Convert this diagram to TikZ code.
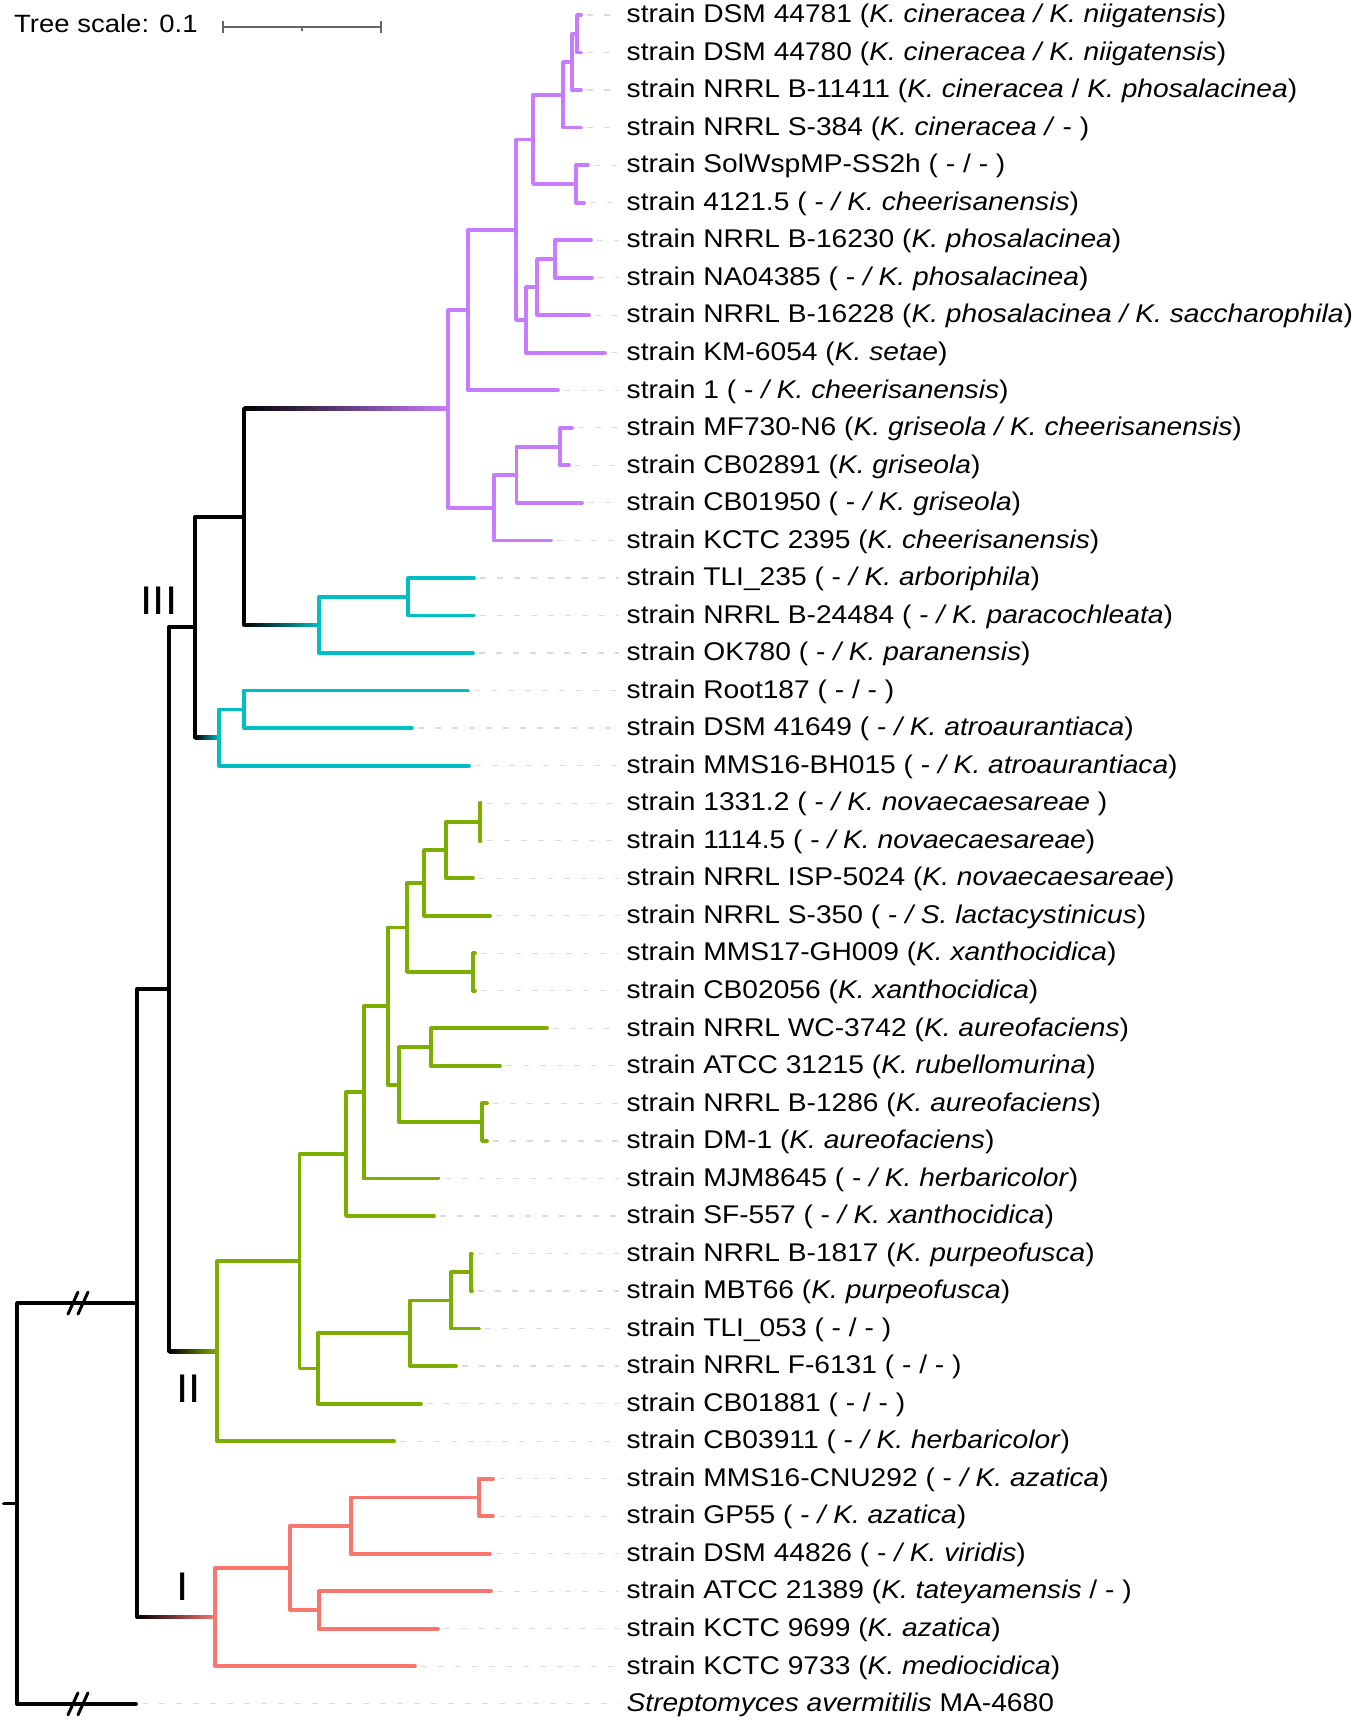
\documentclass[tikz,border=0pt]{standalone}
\usepackage{fontspec}
\setmainfont{Liberation Sans}[FakeStretch=1.1]
\usetikzlibrary{calc}

\definecolor{kpurple}{HTML}{C77CFF}
\definecolor{kcyan}{HTML}{00BFC4}
\definecolor{kgreen}{HTML}{7CAE00}
\definecolor{kred}{HTML}{F8766D}

% black-to-colour stem of a clade
\newcommand{\gradbranch}[3]{%
  \shade[left color=black, right color=#3] ($(#1 |- #2)+(0,-1.9)$) rectangle ($(#2)+(0,1.9)$);}

\begin{document}
\begin{tikzpicture}[x=1pt, y=-1pt,
	branch/.style={line width=3.8pt, line cap=round, line join=round},
	leader/.style={draw=black!14, line width=1.2pt, dash pattern=on 6pt off 11pt},
	leaf/.style={anchor=base west, inner sep=0pt, font=\fontsize{25.6}{28}\selectfont},
	clade/.style={inner sep=0pt, font=\fontsize{40}{44}\selectfont},
	brk/.style={line width=3pt, line cap=round}]
	
	\useasboundingbox (0,0) rectangle (1355,1722);
	
	% ----- scale bar
	\node[leaf, font=\fontsize{25}{28}\selectfont] (scale) at (14,32.3) {Tree scale: 0.1};
	\coordinate (sb0) at (223,26.5);
	\coordinate (sb1) at (381,26.5);
	\draw[black!60, line width=2pt] (sb0) -- (sb1)
		(sb0) ++(0,-6) -- ++(0,12)
		(sb1) ++(0,-6) -- ++(0,12)
		($(sb0)!0.5!(sb1)$) -- ++(0,4);
	
	% ----- leaves: tip, label and dashed leader
	\foreach \i/\tx/\lab in {
		1/581/{strain DSM 44781 (\textit{K. cineracea / K. niigatensis})},
		2/581/{strain DSM 44780 (\textit{K. cineracea / K. niigatensis})},
		3/581/{strain NRRL B-11411 (\textit{K. cineracea} / \textit{K. phosalacinea})},
		4/581/{strain NRRL S-384 (\textit{K. cineracea /} - )},
		5/588/{strain SolWspMP-SS2h ( - / - )},
		6/584/{strain 4121.5 ( - \textit{/ K. cheerisanensis})},
		7/591/{strain NRRL B-16230 (\textit{K. phosalacinea})},
		8/592/{strain NA04385 ( - \textit{/ K. phosalacinea})},
		9/589/{strain NRRL B-16228 (\textit{K. phosalacinea / K. saccharophila})},
		10/605/{strain KM-6054 (\textit{K. setae})},
		11/558/{strain 1 ( - \textit{/ K. cheerisanensis})},
		12/572/{strain MF730-N6 (\textit{K. griseola / K. cheerisanensis})},
		13/569/{strain CB02891 (\textit{K. griseola})},
		14/582/{strain CB01950 ( - \textit{/ K. griseola})},
		15/551/{strain KCTC 2395 (\textit{K. cheerisanensis})},
		16/474/{strain TLI\_235 ( - \textit{/ K. arboriphila})},
		17/474/{strain NRRL B-24484 ( - \textit{/ K. paracochleata})},
		18/473/{strain OK780 ( - \textit{/ K. paranensis})},
		19/468/{strain Root187 ( - / - )},
		20/412/{strain DSM 41649 ( - \textit{/ K. atroaurantiaca})},
		21/469/{strain MMS16-BH015 ( - \textit{/ K. atroaurantiaca})},
		22/480.5/{strain 1331.2 ( - \textit{/ K. novaecaesareae} )},
		23/480.5/{strain 1114.5 ( - \textit{/ K. novaecaesareae})},
		24/473/{strain NRRL ISP-5024 (\textit{K. novaecaesareae})},
		25/490/{strain NRRL S-350 ( - \textit{/ S. lactacystinicus})},
		26/475/{strain MMS17-GH009 (\textit{K. xanthocidica})},
		27/475/{strain CB02056 (\textit{K. xanthocidica})},
		28/547/{strain NRRL WC-3742 (\textit{K. aureofaciens})},
		29/500/{strain ATCC 31215 (\textit{K. rubellomurina})},
		30/487/{strain NRRL B-1286 (\textit{K. aureofaciens})},
		31/487/{strain DM-1 (\textit{K. aureofaciens})},
		32/438.5/{strain MJM8645 ( - \textit{/ K. herbaricolor})},
		33/434/{strain SF-557 ( - \textit{/ K. xanthocidica})},
		34/472/{strain NRRL B-1817 (\textit{K. purpeofusca})},
		35/472/{strain MBT66 (\textit{K. purpeofusca})},
		36/479/{strain TLI\_053 ( - / - )},
		37/456/{strain NRRL F-6131 ( - / - )},
		38/421/{strain CB01881 ( - / - )},
		39/394/{strain CB03911 ( - \textit{/ K. herbaricolor})},
		40/493/{strain MMS16-CNU292 ( - \textit{/ K. azatica})},
		41/493/{strain GP55 ( - \textit{/ K. azatica})},
		42/490/{strain DSM 44826 ( - \textit{/ K. viridis})},
		43/491/{strain ATCC 21389 (\textit{K. tateyamensis} / - )},
		44/438/{strain KCTC 9699 (\textit{K. azatica})},
		45/415/{strain KCTC 9733 (\textit{K. mediocidica})},
		46/136/{\textit{Streptomyces avermitilis} MA-4680}}{
		\coordinate (t\i) at (\tx, {15+(\i-1)*37.53});
		\node[leaf] (n\i) at (626.5, {22.7+(\i-1)*37.53}) {\lab};
		\draw[leader] ($(t\i)+(6,0)$) -- ($(n\i.base west |- t\i)+(-8,0)$);
	}
	
	% ----- clade III, purple part
	\coordinate (p1) at (577,33.8);
	\coordinate (p2) at (572,62.0);
	\coordinate (p3) at (563,94.8);
	\coordinate (p4) at (576,183.9);
	\coordinate (p5) at (533,139.4);
	\coordinate (p6) at (555,259.0);
	\coordinate (p7) at (537,287.1);
	\coordinate (p8) at (526,320.0);
	\coordinate (p9) at (516,229.7);
	\coordinate (p10) at (468,310.0);
	\coordinate (p11) at (560,446.6);
	\coordinate (p12) at (516.5,474.7);
	\coordinate (p13) at (494,507.6);
	\coordinate (p14) at (448,408.8);
	
	% ----- clade III, cyan part
	\coordinate (c1) at (408,596.7);
	\coordinate (c2) at (319,624.9);
	\coordinate (c3) at (244,709.4);
	\coordinate (c4) at (219,737.5);
	
	% ----- clade II, green
	\coordinate (g1) at (479.6,821.9);
	\coordinate (g2) at (446,850.0);
	\coordinate (g3) at (424,882.9);
	\coordinate (g4) at (473,972.0);
	\coordinate (g5) at (407,927.4);
	\coordinate (g6) at (431,1047.0);
	\coordinate (g7) at (482,1122.1);
	\coordinate (g8) at (399,1084.6);
	\coordinate (g9) at (387.6,1006.0);
	\coordinate (g10) at (363.7,1092.2);
	\coordinate (g11) at (346,1154.1);
	\coordinate (g12) at (471,1272.3);
	\coordinate (g13) at (451,1300.4);
	\coordinate (g14) at (410,1333.3);
	\coordinate (g15) at (318,1368.5);
	\coordinate (g16) at (299.5,1261.3);
	\coordinate (g17) at (217,1351.2);
	
	% ----- clade I, red
	\coordinate (r1) at (478.7,1497.4);
	\coordinate (r2) at (350.7,1525.6);
	\coordinate (r3) at (319,1610.0);
	\coordinate (r4) at (290,1567.8);
	\coordinate (r5) at (215,1617.0);
	
	% ----- backbone
	\coordinate (k1) at (244,516.9);
	\coordinate (k2) at (195,627.2);
	\coordinate (k3) at (169,989.2);
	\coordinate (k4) at (137,1303.1);
	\coordinate (root) at (17,1503.5);
	\coordinate (base) at (4,1503.5);
	
	% stems fading from black into the clade colour
	\gradbranch{k1}{p14}{kpurple}
	\gradbranch{k1}{c2}{kcyan}
	\gradbranch{k2}{c4}{kcyan}
	\gradbranch{k3}{g17}{kgreen}
	\gradbranch{k4}{r5}{kred}
	
	\begin{scope}[branch, kpurple]
		\draw (t1) -| (p1) |- (t2);
		\draw (p1) -| (p2) |- (t3);
		\draw (p2) -| (p3) |- (t4);
		\draw (t5) -| (p4) |- (t6);
		\draw (p3) -| (p5) |- (p4);
		\draw (t7) -| (p6) |- (t8);
		\draw (p6) -| (p7) |- (t9);
		\draw (p7) -| (p8) |- (t10);
		\draw (p5) -| (p9) |- (p8);
		\draw (p9) -| (p10) |- (t11);
		\draw (t12) -| (p11) |- (t13);
		\draw (p11) -| (p12) |- (t14);
		\draw (p12) -| (p13) |- (t15);
		\draw (p10) -| (p14) |- (p13);
	\end{scope}
	
	\begin{scope}[branch, kcyan]
		\draw (t16) -| (c1) |- (t17);
		\draw (c1) -| (c2) |- (t18);
		\draw (t19) -| (c3) |- (t20);
		\draw (c3) -| (c4) |- (t21);
	\end{scope}
	
	\begin{scope}[branch, kgreen]
		\draw (t22) -| (g1) |- (t23);
		\draw (g1) -| (g2) |- (t24);
		\draw (g2) -| (g3) |- (t25);
		\draw (t26) -| (g4) |- (t27);
		\draw (g3) -| (g5) |- (g4);
		\draw (t28) -| (g6) |- (t29);
		\draw (t30) -| (g7) |- (t31);
		\draw (g6) -| (g8) |- (g7);
		\draw (g5) -| (g9) |- (g8);
		\draw (g9) -| (g10) |- (t32);
		\draw (g10) -| (g11) |- (t33);
		\draw (t34) -| (g12) |- (t35);
		\draw (g12) -| (g13) |- (t36);
		\draw (g13) -| (g14) |- (t37);
		\draw (g14) -| (g15) |- (t38);
		\draw (g11) -| (g16) |- (g15);
		\draw (g16) -| (g17) |- (t39);
	\end{scope}
	
	\begin{scope}[branch, kred]
		\draw (t40) -| (r1) |- (t41);
		\draw (r1) -| (r2) |- (t42);
		\draw (t43) -| (r3) |- (t44);
		\draw (r2) -| (r4) |- (r3);
		\draw (r4) -| (r5) |- (t45);
	\end{scope}
	
	\begin{scope}[branch, black]
		\draw (k1 |- p14) -- (k1 |- c2);
		\draw (k1) -| (k2) -- (k2 |- c4);
		\draw (k2) -| (k3) -- (k3 |- g17);
		\draw (k3) -| (k4) -- (k4 |- r5);
		\draw (k4) -| (root) |- (t46);
		\draw (base) -- (root);
	\end{scope}
	
	% break marks on the two long branches
	\foreach \b in {k4,t46}
	\foreach \dx in {51,61}
	\draw[brk] ($(root |- \b)+(\dx,11)$) -- ++(10,-22);
	
	% clade labels
	\node[clade] (lab3) at (159,601) {III};
	\node[clade] (lab2) at (188.5,1388.3) {II};
	\node[clade] (lab1) at (183,1586.7) {I};
	
\end{tikzpicture}
\end{document}
